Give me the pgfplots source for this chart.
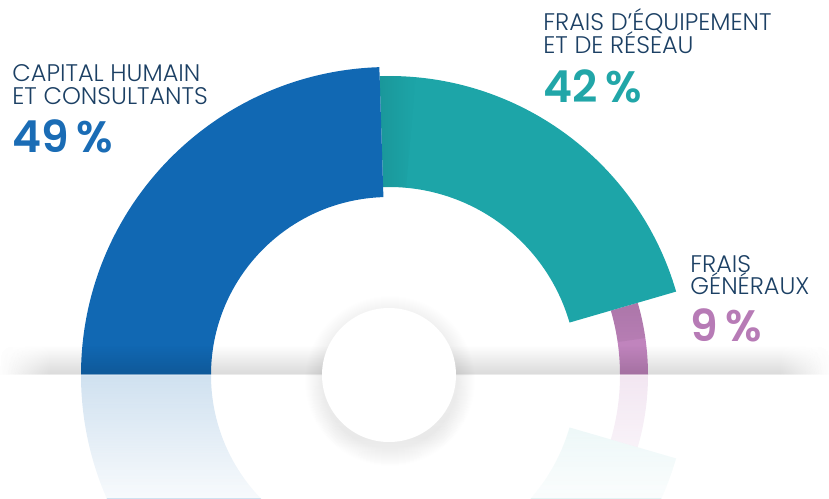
\documentclass[border=0pt]{standalone}
\usepackage{pgfplots}
\usepackage{pgfplotstable}
\pgfplotsset{compat=1.18}
\usetikzlibrary{fadings}
\usepackage{fontspec}
\setmainfont{Poppins}
\newfontfamily\labfont{Poppins Light}
\newfontfamily\numfont{Poppins SemiBold}
\definecolor{cblue}{HTML}{1168B3}
\definecolor{cteal}{HTML}{1DA5A8}
\definecolor{cpurple}{HTML}{C084BD}
\definecolor{navy}{HTML}{1C4064}
\definecolor{tblue}{HTML}{1A6CB5}
\definecolor{tteal}{HTML}{21A6A8}
\definecolor{tpurple}{HTML}{B77BB6}
\tikzfading[name=fadeup, top color=transparent!100, bottom color=transparent!0]
\tikzfading[name=fadedown, top color=transparent!0, bottom color=transparent!100]
\tikzfading[name=fadeR, left color=transparent!0, right color=transparent!100]
\tikzfading[name=fadeL, left color=transparent!100, right color=transparent!0]
% segment: value in %, inner and outer radius (px)
\pgfplotstableread{
name value rin rout
blue 49 178 308
teal 42 188 299
purple 9 231 259
}\segdata
\pgfplotstablegetelem{0}{value}\of\segdata \pgfmathsetmacro\aone{180-1.8*\pgfplotsretval}
\pgfplotstablegetelem{1}{value}\of\segdata \pgfmathsetmacro\atwo{\aone-1.8*\pgfplotsretval}
\pgfmathsetmacro\aonem{-\aone}
\pgfmathsetmacro\atwom{-\atwo}
\pgfmathsetmacro\aones{\aone-7}
\pgfmathsetmacro\atwos{\atwo-8}
\newcommand\seg[5]{\fill[#1] (axis cs:389,123) ++(#2:{#4*0.5pt}) arc[start angle=#2,end angle=#3,radius={#4*0.5pt}] -- ++(#3:{(#5-#4)*0.5pt}) arc[start angle=#3,end angle=#2,radius={#5*0.5pt}] -- cycle;}
\tikzset{lab/.style={anchor=base west,inner sep=0pt,text=navy,font=\labfont\fontsize{12}{14}\selectfont},
  num/.style={anchor=base west,inner sep=0pt,font=\numfont\fontsize{22}{24}\selectfont}}
\begin{document}
\begin{tikzpicture}
\begin{axis}[x=0.5pt,y=0.5pt,xmin=0,xmax=829,ymin=0,ymax=498,scale only axis,hide axis,clip=true]
% reflections
\seg{cblue,fill opacity=0.2}{-180}{\aonem}{178}{308}
\seg{cteal,fill opacity=0.12}{\aonem}{\atwom}{188}{299}
\seg{cpurple,fill opacity=0.2}{\atwom}{0}{231}{259}
\fill[white,fill opacity=0.85,path fading=fadeup] (axis cs:0,0) rectangle (axis cs:829,123);
% segments
\seg{cpurple}{\atwo}{0}{231}{259}
\seg{black,fill opacity=0.1,path fading=fadedown}{\atwo}{\atwos}{231}{259}
\seg{cteal}{\aone}{\atwo}{188}{299}
\seg{black,fill opacity=0.08,path fading=fadeR}{\aone}{\aones}{188}{299}
\seg{cblue}{180}{\aone}{178}{308}
% floor shadow band
\fill[black,fill opacity=0.15,path fading=fadeup] (axis cs:0,123) rectangle (axis cs:829,153);
\fill[white,path fading=fadeR] (axis cs:-1,122) rectangle (axis cs:50,156);
\fill[white,path fading=fadeL] (axis cs:780,122) rectangle (axis cs:830,156);
\fill[white,fill opacity=0.45] (axis cs:0,122.4) rectangle (axis cs:829,123.6);
% centre circle with soft shadow
\pgfplotsinvokeforeach{68,69,70,71,72,73,74,75,76,77,78,79,80,81,82,83,84,85}{\fill[black,fill opacity=0.005] (axis cs:390,117) circle[radius={#1*0.5pt}];}
\fill[white] (axis cs:389,123) circle[radius={67*0.5pt}];
% labels
\node[lab] at (axis cs:12,416) {CAPITAL HUMAIN};
\node[lab] at (axis cs:12,393) {ET CONSULTANTS};
\node[num,text=tblue] at (axis cs:12,345) {49\,\%};
\node[lab] at (axis cs:543,467) {FRAIS D’ÉQUIPEMENT};
\node[lab] at (axis cs:543,444) {ET DE RÉSEAU};
\node[num,text=tteal] at (axis cs:543,395) {42\,\%};
\node[lab] at (axis cs:690,225) {FRAIS};
\node[lab] at (axis cs:690,203) {GÉNÉRAUX};
\node[num,text=tpurple] at (axis cs:690,156) {9\,\%};
\end{axis}
\pgfresetboundingbox
\useasboundingbox (current axis.south west) rectangle (current axis.north east);
\end{tikzpicture}
\end{document}
